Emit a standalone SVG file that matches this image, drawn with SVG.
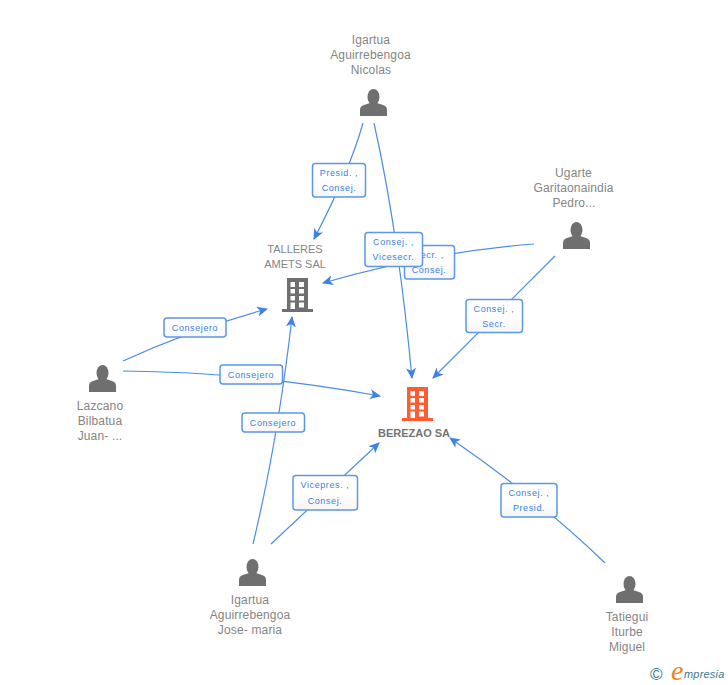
<svg xmlns="http://www.w3.org/2000/svg" width="728" height="685" viewBox="0 0 728 685">
<style>
text{font-family:"Liberation Sans",Arial,sans-serif}
.n{font-size:12px;fill:#858585;text-anchor:middle;letter-spacing:.15px}
.l{font-size:9px;fill:#3b7fe3;text-anchor:middle;letter-spacing:.6px}
.b{fill:url(#g);stroke:#5b97ea;stroke-width:1.5}
.c{fill:none;stroke:#4a8de8;stroke-width:1.2}
</style>
<defs>
<linearGradient id="g" x1="0" y1="0" x2="0" y2="1"><stop offset="0" stop-color="#fff"/><stop offset="0.500" stop-color="#fff"/><stop offset="1" stop-color="#f6f6f6"/></linearGradient>
<marker id="a" markerWidth="12" markerHeight="10" refX="10" refY="5" orient="auto" markerUnits="userSpaceOnUse"><path d="M0 0L11 5L0 10L3 5Z" fill="#3f82e6"/></marker>
<g id="p"><ellipse cx="13.500" cy="8" rx="6" ry="8"/><path d="M0 27V21Q0 17 4 16L10 14H17L23 16Q27 17 27 21V27Z"/></g>
<path id="t" fill-rule="evenodd" d="M5 0H26V31H31V34H0V31H5ZM8.500 4V9H13V4ZM17 4V9H22V4ZM8.500 11V15.500H13V11ZM17 11V15.500H22V11ZM8.500 18V22.500H13V18ZM17 18V22.500H22V18ZM8.500 24.500V31H13V24.500ZM17 24.500V29.500H22V24.500Z"/>
</defs>
<g id="connectors">
<path class="c" marker-end="url(#a)" d="M363 123Q350 170 314 239"/>
<path class="c" marker-end="url(#a)" d="M374 123Q398 230 412 378"/>
<path class="c" marker-end="url(#a)" d="M534 244Q430 252 323 283"/>
<path class="c" marker-end="url(#a)" d="M555 256L433 378"/>
<path class="c" marker-end="url(#a)" d="M123 361Q190 330 267 309"/>
<path class="c" marker-end="url(#a)" d="M123 371Q250 372 380 396"/>
<path class="c" marker-end="url(#a)" d="M253 544Q278 440 292 317"/>
<path class="c" marker-end="url(#a)" d="M271 544L379 443"/>
<path class="c" marker-end="url(#a)" d="M605 563Q540 500 450 438"/>
</g>
<g id="labels">
<g><rect class="b" x="312.500" y="163.500" width="53" height="33.500" rx="3"/><text class="l" x="339" y="176">Presid. ,</text><text class="l" x="339" y="191">Consej.</text></g>
<g><rect class="b" x="404.500" y="245.500" width="50" height="33.500" rx="3"/><text class="l" x="429" y="258">Secr. ,</text><text class="l" x="429" y="273">Consej.</text></g>
<g><rect class="b" x="365" y="232.500" width="57.500" height="34" rx="3"/><text class="l" x="393.500" y="245">Consej. ,</text><text class="l" x="393.500" y="260">Vicesecr.</text></g>
<g><rect class="b" x="466" y="299.500" width="56.500" height="33" rx="3"/><text class="l" x="494" y="312">Consej. ,</text><text class="l" x="494" y="327">Secr.</text></g>
<g><rect class="b" x="164" y="318" width="62" height="19" rx="3"/><text class="l" x="195" y="331">Consejero</text></g>
<g><rect class="b" x="220" y="365" width="62.500" height="19" rx="3"/><text class="l" x="251" y="378">Consejero</text></g>
<g><rect class="b" x="242" y="413" width="62.500" height="19" rx="3"/><text class="l" x="273" y="426">Consejero</text></g>
<g><rect class="b" x="293" y="475.500" width="64.500" height="34.500" rx="3"/><text class="l" x="325" y="488">Vicepres. ,</text><text class="l" x="325" y="504">Consej.</text></g>
<g><rect class="b" x="501" y="483.500" width="56" height="33.500" rx="3"/><text class="l" x="529" y="496">Consej. ,</text><text class="l" x="529" y="511">Presid.</text></g>
</g>
<g id="nicolas"><use href="#p" x="360" y="89" fill="#6f6f6f"/><text class="n" x="371" y="44">Igartua</text><text class="n" x="370.500" y="59">Aguirrebengoa</text><text class="n" x="371" y="74">Nicolas</text></g>
<g id="ugarte"><use href="#p" x="563" y="222" fill="#6f6f6f"/><text class="n" x="573.500" y="177">Ugarte</text><text class="n" x="573.500" y="192">Garitaonaindia</text><text class="n" x="574" y="207">Pedro...</text></g>
<g id="talleres"><use href="#t" x="282" y="278" fill="#6f6f6f"/><text class="n" x="295" y="253" style="font-size:11px;letter-spacing:0">TALLERES</text><text class="n" x="295" y="268" style="font-size:11px;letter-spacing:0">AMETS SAL</text></g>
<g id="lazcano"><use href="#p" x="89" y="365" fill="#6f6f6f"/><text class="n" x="100" y="410">Lazcano</text><text class="n" x="100" y="425">Bilbatua</text><text class="n" x="100" y="440">Juan- ...</text></g>
<g id="berezao"><use href="#t" x="402" y="387" fill="#ff5c33"/><text x="414" y="437" font-size="11" font-weight="bold" fill="#757575" text-anchor="middle">BEREZAO SA</text></g>
<g id="jose"><use href="#p" x="239" y="559" fill="#6f6f6f"/><text class="n" x="250" y="604">Igartua</text><text class="n" x="250" y="619">Aguirrebengoa</text><text class="n" x="250" y="634">Jose- maria</text></g>
<g id="tatiegui"><use href="#p" x="616" y="576" fill="#6f6f6f"/><text class="n" x="627" y="621">Tatiegui</text><text class="n" x="627" y="636">Iturbe</text><text class="n" x="627" y="651">Miguel</text></g>
<g id="logo"><text x="650" y="680" font-size="17" fill="#3d7a8c">©</text><text x="671" y="680" font-size="28" font-style="italic" fill="#f58220" style="font-family:'Liberation Serif',serif">e</text><text x="684" y="678" font-size="11" font-style="italic" fill="#3d7a8c" letter-spacing=".2">mpresia</text></g>
</svg>
